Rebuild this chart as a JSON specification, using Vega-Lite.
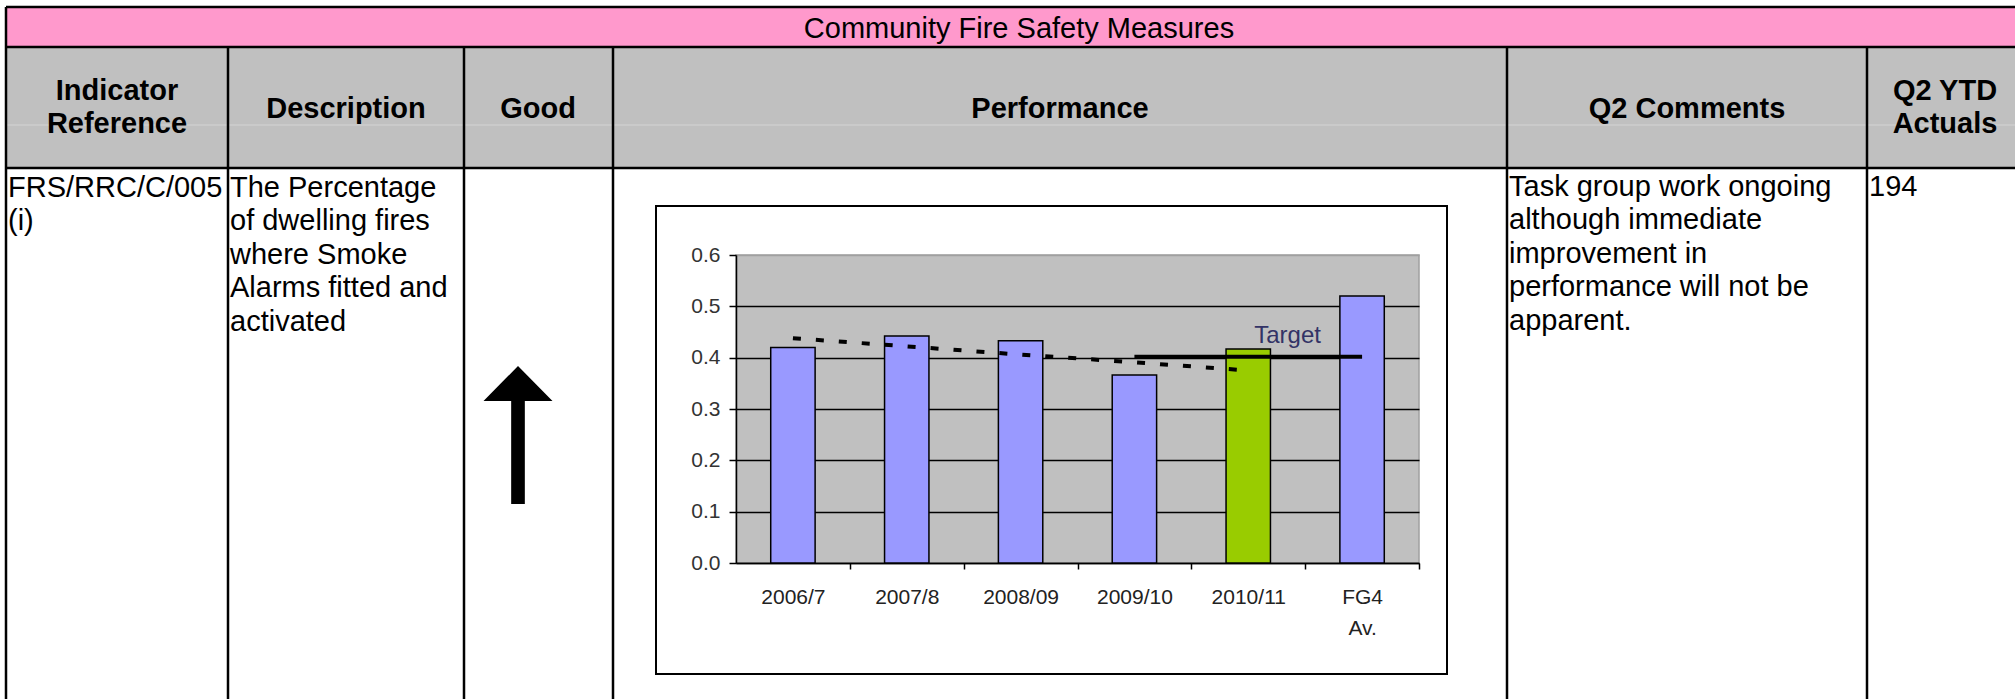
{
  "$schema": "https://vega.github.io/schema/vega-lite/v6.json",
  "width": 683,
  "height": 308,
  "autosize": {"type": "none"},
  "padding": {"left": 736, "top": 255, "right": 596, "bottom": 136},
  "background": "white",
  "config": {
    "font": "Liberation Sans",
    "view": {"fill": "#C0C0C0", "stroke": "#A0A0A0", "strokeWidth": 1.5}
  },
  "datasets": {
    "borders": [
      {"left": 6, "right": 2015, "top": 7, "bottom": 7},
      {"left": 6, "right": 2015, "top": 47, "bottom": 47},
      {"left": 6, "right": 2015, "top": 168, "bottom": 168},
      {"left": 6, "right": 6, "top": 7, "bottom": 699},
      {"left": 228, "right": 228, "top": 47, "bottom": 699},
      {"left": 464, "right": 464, "top": 47, "bottom": 699},
      {"left": 613, "right": 613, "top": 47, "bottom": 699},
      {"left": 1507, "right": 1507, "top": 47, "bottom": 699},
      {"left": 1867, "right": 1867, "top": 47, "bottom": 699}
    ],
    "headers": [
      {"label": "Indicator\nReference", "center": 117, "base": 100},
      {"label": "Description", "center": 346, "base": 118},
      {"label": "Good", "center": 538, "base": 118},
      {"label": "Performance", "center": 1060, "base": 118},
      {"label": "Q2 Comments", "center": 1687, "base": 118},
      {"label": "Q2 YTD\nActuals", "center": 1945, "base": 100}
    ],
    "cells": [
      {"text": "FRS/RRC/C/005\n(i)", "left": 8, "base": 197},
      {"text": "The Percentage\nof dwelling fires\nwhere Smoke\nAlarms fitted and\nactivated", "left": 230, "base": 197},
      {"text": "Task group work ongoing\nalthough immediate\nimprovement in\nperformance will not be\napparent.", "left": 1509, "base": 196},
      {"text": "194", "left": 1869, "base": 196}
    ],
    "performance": [
      {"period": "2006/7", "value": 0.42, "series": "Previous years"},
      {"period": "2007/8", "value": 0.442, "series": "Previous years"},
      {"period": "2008/09", "value": 0.433, "series": "Previous years"},
      {"period": "2009/10", "value": 0.366, "series": "Previous years"},
      {"period": "2010/11", "value": 0.417, "series": "Current year"},
      {"period": "FG4 Av.", "value": 0.52, "series": "Family group average"}
    ],
    "trend": [
      {"period": "2006/7", "trend": 0.438},
      {"period": "2007/8", "trend": 0.422},
      {"period": "2008/09", "trend": 0.406},
      {"period": "2009/10", "trend": 0.391},
      {"period": "2010/11", "trend": 0.375}
    ],
    "target": [
      {"period": "2009/10", "target": 0.402},
      {"period": "2010/11", "target": 0.402},
      {"period": "FG4 Av.", "target": 0.402}
    ],
    "targetLabel": [
      {"period": "2010/11", "value": 0.429, "label": "Target"}
    ]
  },
  "layer": [
    {
      "layer": [
        {
          "data": {"values": [{"left": 6, "right": 2015, "top": 7, "bottom": 47}]},
          "mark": {"type": "rect", "fill": "#FF99CC"},
          "encoding": {
            "x": {"field": "left", "type": "quantitative", "scale": {"domain": [0, 2015], "range": [-736, 1279], "nice": false, "zero": false}, "axis": null},
            "x2": {"field": "right"},
            "y": {"field": "top", "type": "quantitative", "scale": {"domain": [0, 699], "range": [-255, 444], "nice": false, "zero": false}, "axis": null},
            "y2": {"field": "bottom"}
          }
        },
        {
          "data": {"values": [{"left": 6, "right": 2015, "top": 47, "bottom": 168}]},
          "mark": {"type": "rect", "fill": "#C0C0C0"},
          "encoding": {
            "x": {"field": "left", "type": "quantitative", "axis": null},
            "x2": {"field": "right"},
            "y": {"field": "top", "type": "quantitative", "axis": null},
            "y2": {"field": "bottom"}
          }
        },
        {
          "data": {"values": [{"left": 6, "right": 2015, "top": 125, "bottom": 125}]},
          "mark": {"type": "rule", "color": "#D4D4D4", "strokeWidth": 1},
          "encoding": {
            "x": {"field": "left", "type": "quantitative", "axis": null},
            "x2": {"field": "right"},
            "y": {"field": "top", "type": "quantitative", "axis": null},
            "y2": {"field": "bottom"}
          }
        },
        {
          "data": {"name": "borders"},
          "mark": {"type": "rule", "color": "black", "strokeWidth": 2.5},
          "encoding": {
            "x": {"field": "left", "type": "quantitative", "axis": null},
            "x2": {"field": "right"},
            "y": {"field": "top", "type": "quantitative", "axis": null},
            "y2": {"field": "bottom"}
          }
        },
        {
          "data": {"values": [{"left": 656, "right": 1447, "top": 206, "bottom": 674}]},
          "mark": {"type": "rect", "fillOpacity": 0, "stroke": "black", "strokeWidth": 2},
          "encoding": {
            "x": {"field": "left", "type": "quantitative", "axis": null},
            "x2": {"field": "right"},
            "y": {"field": "top", "type": "quantitative", "axis": null},
            "y2": {"field": "bottom"}
          }
        },
        {
          "data": {"values": [{"text": "Community Fire Safety Measures", "center": 1019, "base": 38}]},
          "mark": {"type": "text", "align": "center", "baseline": "alphabetic", "fontSize": 29, "color": "black"},
          "encoding": {
            "x": {"field": "center", "type": "quantitative", "axis": null},
            "y": {"field": "base", "type": "quantitative", "axis": null},
            "text": {"field": "text"}
          }
        },
        {
          "data": {"name": "headers"},
          "mark": {"type": "text", "align": "center", "baseline": "alphabetic", "fontSize": 29, "fontWeight": "bold", "lineBreak": "\n", "lineHeight": 33, "color": "black"},
          "encoding": {
            "x": {"field": "center", "type": "quantitative", "axis": null},
            "y": {"field": "base", "type": "quantitative", "axis": null},
            "text": {"field": "label"}
          }
        },
        {
          "data": {"name": "cells"},
          "mark": {"type": "text", "align": "left", "baseline": "alphabetic", "fontSize": 29, "lineBreak": "\n", "lineHeight": 33.4, "color": "black"},
          "encoding": {
            "x": {"field": "left", "type": "quantitative", "axis": null},
            "y": {"field": "base", "type": "quantitative", "axis": null},
            "text": {"field": "text"}
          }
        },
        {
          "data": {"values": [{"direction": "higher is better", "cx": 518, "cy": 435}]},
          "mark": {"type": "point", "shape": "M0,-1 L0.5,-0.493 L0.099,-0.493 L0.099,1 L-0.099,1 L-0.099,-0.493 L-0.5,-0.493 Z", "size": 19044, "filled": true, "color": "black", "opacity": 1, "strokeWidth": 0},
          "encoding": {
            "x": {"field": "cx", "type": "quantitative", "axis": null},
            "y": {"field": "cy", "type": "quantitative", "axis": null}
          }
        }
      ]
    },
    {
      "layer": [
        {
          "data": {"name": "performance"},
          "mark": {"type": "bar", "stroke": "black", "strokeWidth": 1.5},
          "encoding": {
            "x": {
              "field": "period", "type": "nominal", "sort": null,
              "scale": {"type": "band", "domain": ["2006/7", "2007/8", "2008/09", "2009/10", "2010/11", "FG4 Av."], "paddingInner": 0.61, "paddingOuter": 0.305},
              "axis": {
                "orient": "bottom", "title": null, "labelAngle": 0, "grid": false,
                "domainColor": "black", "domainWidth": 1.5,
                "tickColor": "black", "tickWidth": 1.5, "tickSize": 6, "tickOffset": 57,
                "labelOffset": -57, "labelFontSize": 21, "labelColor": "#222222",
                "labelBaseline": "alphabetic", "labelPadding": 34, "labelLineHeight": 31,
                "labelOverlap": false, "labelExpr": "split(datum.label, ' ')"
              }
            },
            "y": {
              "field": "value", "type": "quantitative",
              "scale": {"domain": [0, 0.6], "nice": false, "zero": true},
              "axis": {
                "orient": "left", "title": null, "values": [0, 0.1, 0.2, 0.3, 0.4, 0.5, 0.6], "format": ".1f",
                "grid": true, "gridColor": {"condition": {"test": "datum.value > 0.55", "value": "#A0A0A0"}, "value": "black"}, "gridWidth": 1.5,
                "domainColor": "black", "domainWidth": 1.5,
                "tickColor": "black", "tickWidth": 1.5, "tickSize": 7,
                "labelFontSize": 21, "labelColor": "#333333", "labelPadding": 9
              }
            },
            "color": {
              "field": "series", "type": "nominal",
              "scale": {"domain": ["Previous years", "Current year", "Family group average"], "range": ["#9999FF", "#99CC00", "#9999FF"]},
              "legend": null
            }
          }
        },
        {
          "data": {"name": "trend"},
          "mark": {"type": "line", "color": "black", "strokeWidth": 4, "strokeDash": [8, 15], "strokeCap": "butt"},
          "encoding": {
            "x": {"field": "period", "type": "nominal", "sort": null},
            "y": {"field": "trend", "type": "quantitative"}
          }
        },
        {
          "data": {"name": "target"},
          "mark": {"type": "line", "color": "black", "strokeWidth": 4},
          "encoding": {
            "x": {"field": "period", "type": "nominal", "sort": null},
            "y": {"field": "target", "type": "quantitative"}
          }
        },
        {
          "data": {"name": "targetLabel"},
          "mark": {"type": "text", "align": "left", "baseline": "alphabetic", "dx": 6, "fontSize": 24, "color": "#333366"},
          "encoding": {
            "x": {"field": "period", "type": "nominal", "sort": null},
            "y": {"field": "value", "type": "quantitative"},
            "text": {"field": "label"}
          }
        }
      ]
    }
  ],
  "resolve": {"scale": {"x": "independent", "y": "independent", "color": "independent"}}
}
